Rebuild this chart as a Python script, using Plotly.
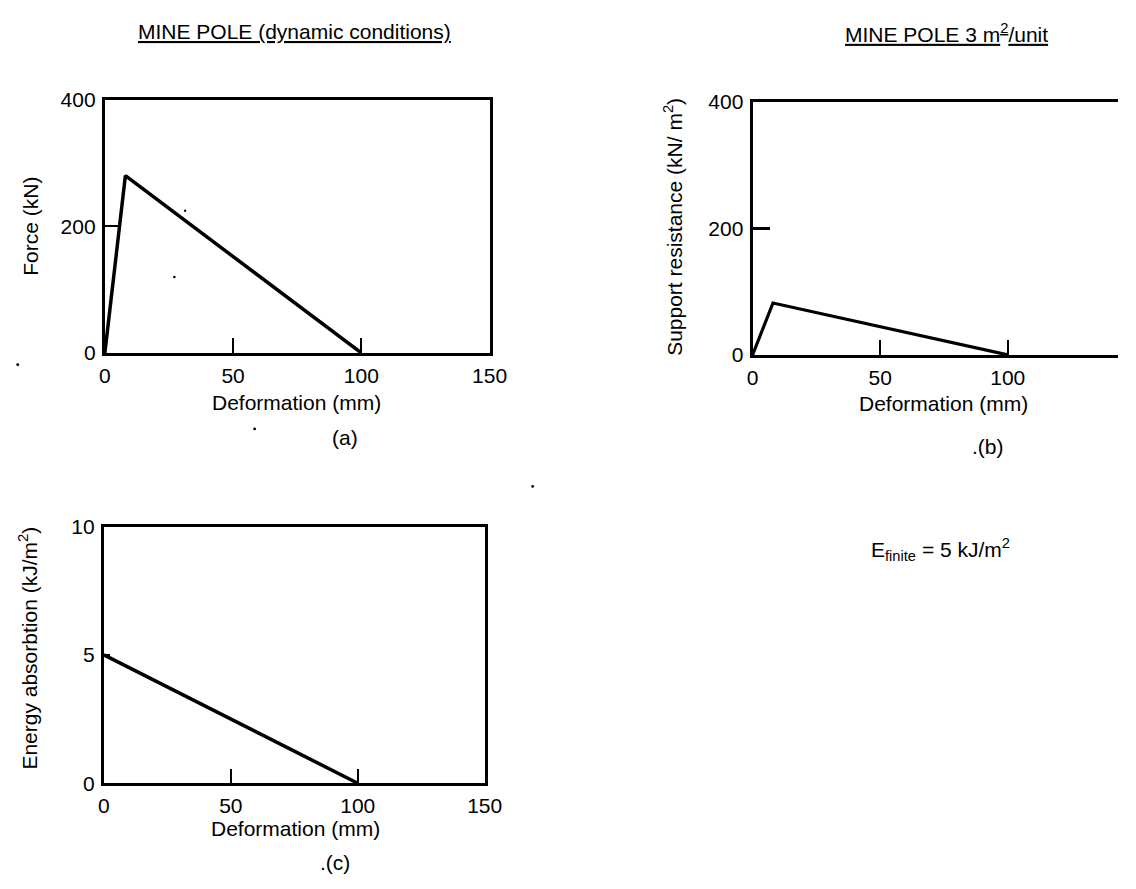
import plotly.graph_objects as go

# Force-deformation of a single mine pole under dynamic loading
pole_defo_mm = [0, 8, 100]
pole_force_kN = [0, 280, 0]

# Support resistance per unit area (3 m2 per unit)
area_defo_mm = [0, 8, 100]
area_resist_kNm2 = [0, 82, 0]

# Energy absorption remaining vs deformation
energy_defo_mm = [0, 100]
energy_kJm2 = [5, 0]

x_ticks = [0, 50, 100, 150]
force_ticks = [0, 200, 400]
resist_ticks = [0, 200, 400]
energy_ticks = [0, 5, 10]

W, H = 1136, 889
FONT = "Liberation Sans, Arial, Helvetica, sans-serif"


def fx(px):
    return px / W


def fy(py):
    return 1 - py / H


fig = go.Figure()

line_style = dict(color="black", width=3.5)
fig.add_trace(go.Scatter(x=pole_defo_mm, y=pole_force_kN, mode="lines",
                         line=line_style, xaxis="x", yaxis="y", showlegend=False))
fig.add_trace(go.Scatter(x=area_defo_mm, y=area_resist_kNm2, mode="lines",
                         line=dict(color="black", width=3.2), xaxis="x2", yaxis="y2",
                         showlegend=False))
fig.add_trace(go.Scatter(x=energy_defo_mm, y=energy_kJm2, mode="lines",
                         line=line_style, xaxis="x3", yaxis="y3", showlegend=False))

tick_font = dict(family=FONT, size=21, color="black")


def x_axis(domain, rng, anchor, mirror=True, ticklen=15):
    return dict(domain=domain, range=rng, anchor=anchor, showgrid=False, zeroline=False,
                showline=True, linecolor="black", linewidth=3, mirror=mirror,
                tickmode="array", tickvals=x_ticks, ticktext=[str(v) for v in x_ticks],
                ticks="inside", ticklen=ticklen, tickwidth=2, tickcolor="black",
                tickfont=tick_font, ticklabelstandoff=2, fixedrange=True)


def y_axis(domain, rng, anchor, vals, mirror=True, ticklen=14, tickwidth=2):
    return dict(domain=domain, range=rng, anchor=anchor, showgrid=False, zeroline=False,
                showline=True, linecolor="black", linewidth=3, mirror=mirror,
                tickmode="array", tickvals=vals, ticktext=[str(v) for v in vals],
                ticks="inside", ticklen=ticklen, tickwidth=tickwidth, tickcolor="black",
                tickfont=tick_font, ticklabelstandoff=2, fixedrange=True)


# panel (a)
fig.update_layout(
    xaxis=x_axis([fx(101), fx(494)], [0, 150], "y"),
    yaxis=y_axis([fy(350), fy(90)], [0, 400], "x", force_ticks, ticklen=13),
    # panel (b): the frame runs off the right edge of the page
    xaxis2=x_axis([fx(762.7), 1.0], [0, 143.2], "y2", ticklen=15),
    yaxis2=y_axis([fy(352), fy(92.3)], [0, 400], "x2", resist_ticks, mirror=False,
                  ticklen=17, tickwidth=3),
    # panel (c)
    xaxis3=x_axis([fx(100), fx(489)], [0, 150], "y3", ticklen=14),
    yaxis3=y_axis([fy(791.7), fy(528.3)], [0, 10], "x3", energy_ticks, ticklen=6),
)

text_font = dict(family=FONT, size=21, color="black")


def label(px, py, text, angle=0, size=21):
    fig.add_annotation(x=fx(px), y=fy(py), xref="paper", yref="paper", text=text,
                       showarrow=False, textangle=angle, xanchor="center", yanchor="middle",
                       font=dict(family=FONT, size=size, color="black"))


# headings
label(295, 20, "<u>MINE POLE (dynamic conditions)</u>")
label(961, 22, "<u>MINE POLE 3 m<sup>2</sup>/unit</u>")

# axis titles
label(297, 401, "Deformation (mm)")
label(958, 402, "Deformation (mm)")
label(296, 838, "Deformation (mm)")
label(25, 220, "Force (kN)", angle=-90)
label(682, 221, "Support resistance (kN/ m<sup>2</sup>)", angle=-90)
label(23, 653, "Energy absorbtion (kJ/m<sup>2</sup>)", angle=-90)

# panel captions
label(346, 437, "(a)")
label(1003, 446, ".(b)")
label(336, 873, ".(c)")

# note on energy
label(955, 552, "E<sub>finite</sub> = 5 kJ/m<sup>2</sup>")

# small specks on the printed sheet
for px, py, r in [(12, 362, 1.5), (183, 204, 1.2), (172, 272, 1.3), (254, 428, 1.4),
                  (538, 487, 1.4)]:
    fig.add_shape(type="circle", xref="paper", yref="paper",
                  x0=fx(px - r), x1=fx(px + r), y0=fy(py + r), y1=fy(py - r),
                  fillcolor="black", line=dict(width=0))

fig.update_layout(
    width=W, height=H,
    margin=dict(l=0, r=0, t=0, b=0),
    paper_bgcolor="white", plot_bgcolor="white",
    font=text_font,
    showlegend=False,
)

fig.write_html("out.html", config={"displayModeBar": False})
